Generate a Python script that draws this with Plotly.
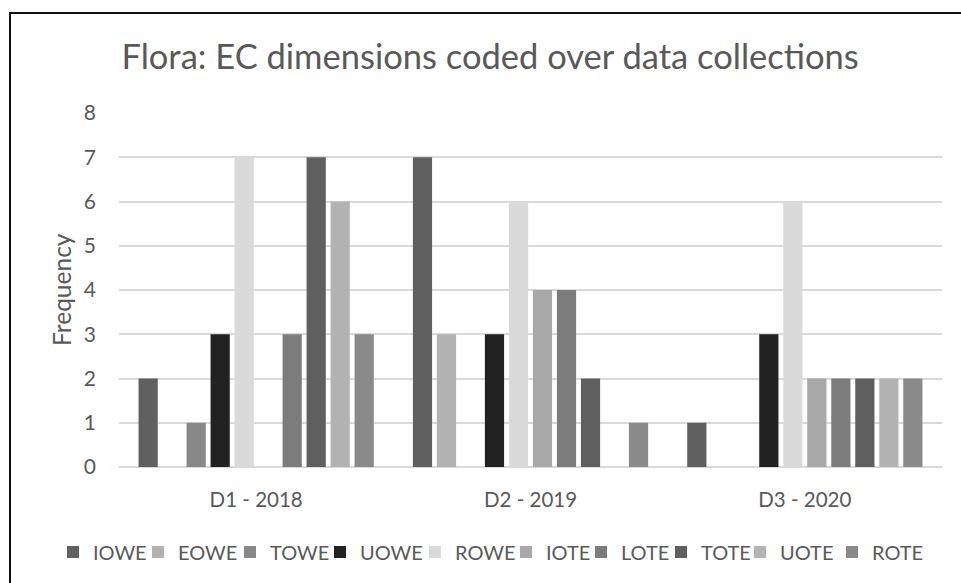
import plotly.graph_objects as go

# Data collections (x categories)
collections = ["D1 - 2018", "D2 - 2019", "D3 - 2020"]

# EC dimension codes and their frequencies per collection
iowe = [2, 7, 1]
eowe = [0, 3, 0]
towe = [1, 0, 0]
uowe = [3, 3, 3]
rowe = [7, 6, 6]
iote = [0, 4, 2]
lote = [3, 4, 2]
tote = [7, 2, 2]
uote = [6, 0, 2]
rote = [3, 1, 2]

series_names = ["IOWE", "EOWE", "TOWE", "UOWE", "ROWE", "IOTE", "LOTE", "TOTE", "UOTE", "ROTE"]
series_values = [iowe, eowe, towe, uowe, rowe, iote, lote, tote, uote, rote]
series_colors = ["#606060", "#b2b2b2", "#888888", "#222222", "#dadada",
                 "#a8a8a8", "#7c7c7c", "#5f5f5f", "#b3b3b3", "#8a8a8a"]

FONT = "Lato"
TEXT = "#595959"

W, H = 961, 583
L, R, T, B = 119, 19, 113, 116
pw, ph = W - L - R, H - T - B


def px_x(p):
    return (p - L) / pw


def px_y(p):
    return (H - B - p) / ph


# left edge (px) of each legend entry along the bottom row
legend_left_px = [53, 138, 230, 320, 415, 506, 581, 661, 740, 832]

fig = go.Figure()
legend_layouts = {}
for i, (name, vals, col) in enumerate(zip(series_names, series_values, series_colors)):
    key = "legend" if i == 0 else f"legend{i + 1}"
    fig.add_trace(go.Bar(x=collections, y=vals, name=name, marker_color=col,
                         marker_line_width=0, legend=key, showlegend=True))
    legend_layouts[key] = dict(
        orientation="h", x=px_x(legend_left_px[i]), xanchor="left",
        y=px_y(552), yanchor="middle", itemwidth=30,
        bgcolor="rgba(0,0,0,0)",
        font=dict(family=FONT, size=20, color=TEXT))

# chart frame: open polyline along the left and top edges
fx0, fy_top = px_x(10), px_y(13)
fy_bot, fx_right = px_y(H + 40), px_x(W + 60)
frame_path = f"M {fx0},{fy_bot} L {fx0},{fy_top} L {fx_right},{fy_top}"

fig.update_layout(
    width=W, height=H,
    margin=dict(l=L, r=R, t=T, b=B, autoexpand=False),
    paper_bgcolor="white", plot_bgcolor="white",
    showlegend=True,
    barmode="group", bargap=0.125, bargroupgap=0.2,
    font=dict(family=FONT, color=TEXT),
    title=dict(text="Flora: EC dimensions coded over data collections",
               x=0.51, xanchor="center", y=1 - 57 / H, yanchor="middle",
               font=dict(family=FONT, size=34.5, color=TEXT)),
    xaxis=dict(showgrid=False, showline=False, ticks="",
               ticklabelstandoff=18,
               tickfont=dict(family=FONT, size=20.5, color=TEXT)),
    yaxis=dict(range=[0, 8], dtick=1, showgrid=True, gridcolor="#d9d9d9",
               gridwidth=1.5, zeroline=True, zerolinecolor="#d9d9d9",
               zerolinewidth=2, showline=False, ticks="",
               ticklabelstandoff=22,
               tickfont=dict(family=FONT, size=21, color=TEXT)),
    annotations=[dict(text="Frequency", xref="paper", yref="paper",
                      x=px_x(61), y=0.5, xanchor="center", yanchor="middle",
                      textangle=-90, showarrow=False,
                      font=dict(family=FONT, size=24.5, color=TEXT))],
    shapes=[dict(type="path", xref="paper", yref="paper", path=frame_path,
                 line=dict(color="#111111", width=2), layer="below")],
    **legend_layouts,
)

fig.write_html("out.html")
